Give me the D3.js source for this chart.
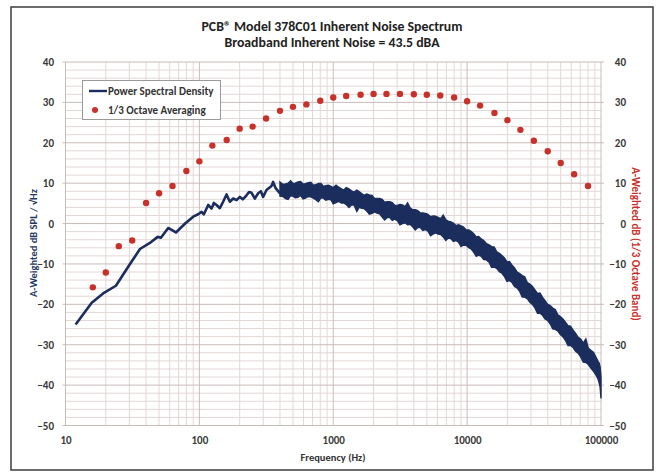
<!DOCTYPE html>
<html><head><meta charset="utf-8">
<script src="https://cdn.jsdelivr.net/npm/d3@7"></script>
<style>
html,body{margin:0;padding:0;background:#fff;}
svg text{font-family:Carlito,Lato,"Open Sans",sans-serif;font-weight:bold;}
</style></head>
<body><svg id="chart" width="657" height="472"></svg>
<script>
// ---- data ----
const titleLines = ["PCB\u00AE Model 378C01 Inherent Noise Spectrum", "Broadband Inherent Noise = 43.5 dBA"];
const xTickValues = [10, 100, 1000, 10000, 100000];
const yTickValues = [-50, -40, -30, -20, -10, 0, 10, 20, 30, 40];

// 1/3 octave band centres (Hz) and levels (dBA)
const octFreq = [16, 20, 25, 31.5, 40, 50, 63, 80, 100, 125, 160, 200, 250, 315, 400, 500, 630, 800,
  1000, 1250, 1600, 2000, 2500, 3150, 4000, 5000, 6300, 8000, 10000, 12500, 16000, 20000, 25000, 31500, 40000, 50000, 63000, 80000];
const octLevel = [-15.8, -12.1, -5.6, -4.2, 5.1, 7.5, 9.3, 13.0, 15.4, 19.3, 20.7, 23.5, 24.0, 26.0, 27.9, 28.9, 29.5, 30.4,
  31.2, 31.6, 31.9, 32.1, 32.1, 32.1, 32.0, 31.9, 31.7, 31.2, 30.3, 29.2, 27.4, 25.6, 23.2, 20.5, 17.9, 15.0, 12.2, 9.3];

// PSD, resolved low-frequency part (Hz, dB)
const psdFreq = [11.9, 15.7, 19.1, 23.8, 29.4, 36.0, 42.7, 48.8, 51.6, 58.5, 66.8, 78.3, 89.9, 97.9, 103.8, 108.0,
  116.4, 123.3, 128.3, 134.4, 142.2, 150.5, 159.6, 168.9, 178.7, 189.6, 200.6, 211, 225.1, 235, 245.3, 259.6,
  274.8, 288, 299.4, 317.3, 345.8, 355.4, 372.3, 398.8, 434.6];
const psdLevel = [-25.0, -19.6, -17.3, -15.4, -10.7, -6.3, -4.8, -3.3, -3.5, -1.1, -2.2, 0.0, 1.7, 2.3, 2.9, 2.3,
  4.6, 3.7, 5.1, 4.6, 3.8, 5.4, 7.2, 5.4, 6.2, 5.8, 6.6, 6.0, 7.0, 7.8, 7.6, 6.2,
  7.5, 8.0, 6.6, 8.3, 9.3, 10.3, 8.7, 7.5, 9.5];

// PSD, dense high-frequency part: envelope of the noisy trace (Hz, upper dB, lower dB)
const bandFreq = [400, 420, 440, 460, 480, 500, 520, 545, 570, 595, 620, 650, 680, 710, 740, 775, 810, 845, 880, 920,
  960, 1000, 1050, 1100, 1150, 1200, 1250, 1310, 1370, 1430, 1500, 1560, 1630, 1700, 1780, 1860, 1950, 2030, 2120, 2220,
  2320, 2420, 2530, 2640, 2760, 2880, 3010, 3150, 3290, 3440, 3590, 3750, 3920, 4100, 4280, 4470, 4670, 4880, 5100, 5330,
  5560, 5810, 6070, 6350, 6630, 6930, 7230, 7560, 7890, 8250, 8620, 9000, 9400, 9850, 10300, 10750, 11200, 11700, 12200, 12750,
  13300, 13950, 14600, 15250, 15900, 16650, 17400, 18200, 19000, 19850, 20700, 21650, 22600, 23650, 24700, 25800, 26900, 28150,
  29400, 30750, 32100, 33550, 35000, 36600, 38200, 39950, 41700, 43600, 45500, 47600, 49700, 51900, 54200, 56700, 59200, 61900,
  64600, 67500, 70500, 73700, 77000, 80500, 84000, 88000, 92000, 95000, 97000, 98500, 100000];
const bandUpper = [10.3, 9.7, 9.8, 10.0, 10.6, 9.9, 10.0, 10.3, 10.4, 9.8, 9.9, 10.1, 10.2, 9.5, 9.6, 9.9, 9.9, 9.2, 9.4, 9.5,
  9.2, 8.9, 9.5, 9.0, 8.6, 8.3, 8.9, 8.6, 8.1, 7.8, 8.3, 7.9, 7.4, 7.0, 7.3, 7.1, 7.0, 6.2, 6.2, 6.2,
  6.0, 5.3, 5.4, 5.4, 5.2, 4.5, 4.5, 4.7, 4.6, 4.2, 5.1, 3.9, 3.4, 3.4, 3.2, 2.6, 2.6, 2.5, 2.3, 1.7,
  1.9, 1.8, 1.5, 1.2, 2.1, 0.9, 0.6, 0.4, 0.1, -0.5, -0.3, -0.6, -0.9, -1.6, -1.6, -2.0, -2.5, -3.3, -3.2, -3.8,
  -4.2, -5.0, -5.3, -5.7, -5.8, -7.0, -7.4, -7.9, -8.5, -9.5, -9.4, -10.3, -11.0, -12.0, -12.4, -12.9, -13.2, -14.6,
  -15.0, -15.6, -16.4, -17.3, -17.2, -18.3, -19.1, -20.0, -20.3, -20.9, -21.3, -22.6, -23.0, -23.6, -24.4, -25.3, -25.4, -26.4,
  -27.2, -28.2, -28.6, -29.6, -28.6, -30.9, -31.4, -31.9, -33.2, -34.1, -34.6, -35.5, -38.0];
const bandLower = [6.8, 6.7, 6.2, 6.0, 6.9, 6.8, 6.4, 6.5, 7.0, 6.1, 6.3, 6.7, 6.6, 6.3, 5.9, 5.4, 6.4, 6.3, 5.8, 6.0,
  5.9, 4.9, 5.2, 5.5, 5.1, 5.1, 4.7, 4.0, 4.6, 4.6, 3.0, 4.0, 3.8, 3.7, 3.1, 2.3, 2.5, 2.9, 2.6, 2.4,
  1.6, 0.9, 1.5, 1.5, 0.8, 1.1, 0.7, -0.3, 0.0, 0.2, -0.3, -0.2, -0.8, -1.6, -1.0, -1.0, -1.7, -1.5, -1.9, -3.0,
  -2.6, -2.3, -2.6, -2.7, -3.3, -4.2, -3.6, -3.7, -4.4, -4.2, -4.6, -5.7, -5.3, -5.4, -6.0, -6.3, -7.1, -8.1, -7.8, -8.1,
  -8.9, -9.0, -9.6, -10.9, -10.8, -11.1, -11.9, -12.3, -13.1, -14.3, -14.1, -14.6, -15.6, -16.0, -16.8, -18.2, -18.2, -18.6,
  -19.5, -20.0, -20.9, -22.2, -22.2, -22.7, -23.6, -24.0, -24.8, -26.1, -26.2, -26.6, -27.5, -28.0, -28.9, -30.2, -30.2, -30.7,
  -31.6, -32.1, -33.0, -34.3, -34.4, -34.9, -35.8, -36.6, -37.6, -38.5, -39.5, -40.5, -43.3];

const legendLabels = ["Power Spectral Density", "1/3 Octave Averaging"];
const leftTitle = "A-Weighted dB SPL / \u221AHz";
const rightTitle = "A-Weighted dB (1/3 Octave Band)";
const xTitle = "Frequency (Hz)";

// ---- drawing ----
const navy = "#1b2d5c", red = "#c8302a";
const svg = d3.select("#chart");
const x = d3.scaleLog().domain([10, 100000]).range([65.5, 601]);
const y = d3.scaleLinear().domain([-50, 40]).range([425.5, 62]);

// frame
svg.append("rect").attr("x", 11).attr("y", 7).attr("width", 642).attr("height", 463)
  .attr("fill", "#fff").attr("stroke", "#3c3c3c").attr("stroke-width", 1.5);

// grid
const minorX = [];
for (let d = 10; d < 100000; d *= 10) for (let m = 2; m <= 9; m++) minorX.push(d * m);
const minorY = d3.range(-50, 41, 2).filter(v => v % 10 !== 0);
const g = svg.append("g");
g.selectAll(".mx").data(minorX).join("line")
  .attr("x1", d => x(d)).attr("x2", d => x(d)).attr("y1", y(40)).attr("y2", y(-50))
  .attr("stroke", "#e2d8d6").attr("stroke-width", 1);
g.selectAll(".my").data(minorY).join("line")
  .attr("x1", x(10)).attr("x2", x(100000)).attr("y1", d => y(d)).attr("y2", d => y(d))
  .attr("stroke", "#e2d8d6").attr("stroke-width", 1);
g.selectAll(".Mx").data(xTickValues).join("line")
  .attr("x1", d => x(d)).attr("x2", d => x(d)).attr("y1", y(40)).attr("y2", y(-50))
  .attr("stroke", "#c9bcb9").attr("stroke-width", 1);
g.selectAll(".My").data(yTickValues).join("line")
  .attr("x1", x(10) - 3).attr("x2", x(100000) + 3).attr("y1", d => y(d)).attr("y2", d => y(d))
  .attr("stroke", "#c9bcb9").attr("stroke-width", 1);

// axes labels via d3 axes
function styleAxis(sel) {
  sel.select(".domain").remove();
  sel.selectAll("line").remove();
  sel.selectAll("text").attr("fill", "#3a3a3a").style("font-size", "11px");
}
svg.append("g").attr("transform", "translate(54,0)")
  .call(d3.axisLeft(y).tickValues(yTickValues).tickSize(0).tickPadding(0).tickFormat(d3.format("d")))
  .call(styleAxis);
svg.append("g").attr("transform", "translate(626,0)")
  .call(d3.axisLeft(y).tickValues(yTickValues).tickSize(0).tickPadding(0).tickFormat(d3.format("d")))
  .call(styleAxis);
svg.append("g").attr("transform", "translate(0,436)")
  .call(d3.axisBottom(x).tickValues(xTickValues).tickSize(0).tickPadding(0).tickFormat(d3.format("d")))
  .call(styleAxis);

// PSD dense band
svg.append("path").datum(bandFreq.map((f, i) => ({ f, u: bandUpper[i], l: bandLower[i] })))
  .attr("d", d3.area().x(d => x(d.f)).y0(d => y(d.l)).y1(d => y(d.u)))
  .attr("fill", navy).attr("stroke", navy).attr("stroke-width", 1.4).attr("stroke-linejoin", "miter");
// PSD low-frequency line
svg.append("path").datum(psdFreq.map((f, i) => ({ f, v: psdLevel[i] })))
  .attr("d", d3.line().x(d => x(d.f)).y(d => y(d.v)))
  .attr("fill", "none").attr("stroke", navy).attr("stroke-width", 2.6).attr("stroke-linejoin", "round");

// 1/3 octave dots
svg.selectAll(".oct").data(octFreq.map((f, i) => ({ f, v: octLevel[i] }))).join("circle")
  .attr("cx", d => x(d.f)).attr("cy", d => y(d.v)).attr("r", 3.2).attr("fill", red);

// titles
svg.selectAll(".title").data(titleLines).join("text")
  .attr("x", 332).attr("y", (d, i) => 31 + i * 16).attr("text-anchor", "middle")
  .attr("fill", "#222").style("font-size", "13.8px").text(d => d);
svg.append("text").attr("x", 333).attr("y", 461).attr("text-anchor", "middle")
  .attr("fill", "#333").style("font-size", "10.5px").text(xTitle);
svg.append("text").attr("transform", "translate(37,243) rotate(-90)").attr("text-anchor", "middle")
  .attr("fill", "#1f3864").style("font-size", "10.5px").text(leftTitle);
svg.append("text").attr("transform", "translate(632,244) rotate(90)").attr("text-anchor", "middle")
  .attr("fill", red).style("font-size", "11px").text(rightTitle);

// legend
const lg = svg.append("g");
lg.append("rect").attr("x", 82.5).attr("y", 80.5).attr("width", 138).attr("height", 39)
  .attr("fill", "#fff").attr("stroke", "#9a9a9a").attr("stroke-width", 1);
lg.append("line").attr("x1", 89).attr("x2", 107).attr("y1", 91).attr("y2", 91)
  .attr("stroke", navy).attr("stroke-width", 2.4);
lg.append("circle").attr("cx", 95).attr("cy", 110).attr("r", 3).attr("fill", red);
lg.selectAll(".lt").data(legendLabels).join("text")
  .attr("x", 108).attr("y", (d, i) => 94.5 + i * 19).attr("fill", "#333")
  .style("font-size", "11px").text(d => d);
</script></body></html>
